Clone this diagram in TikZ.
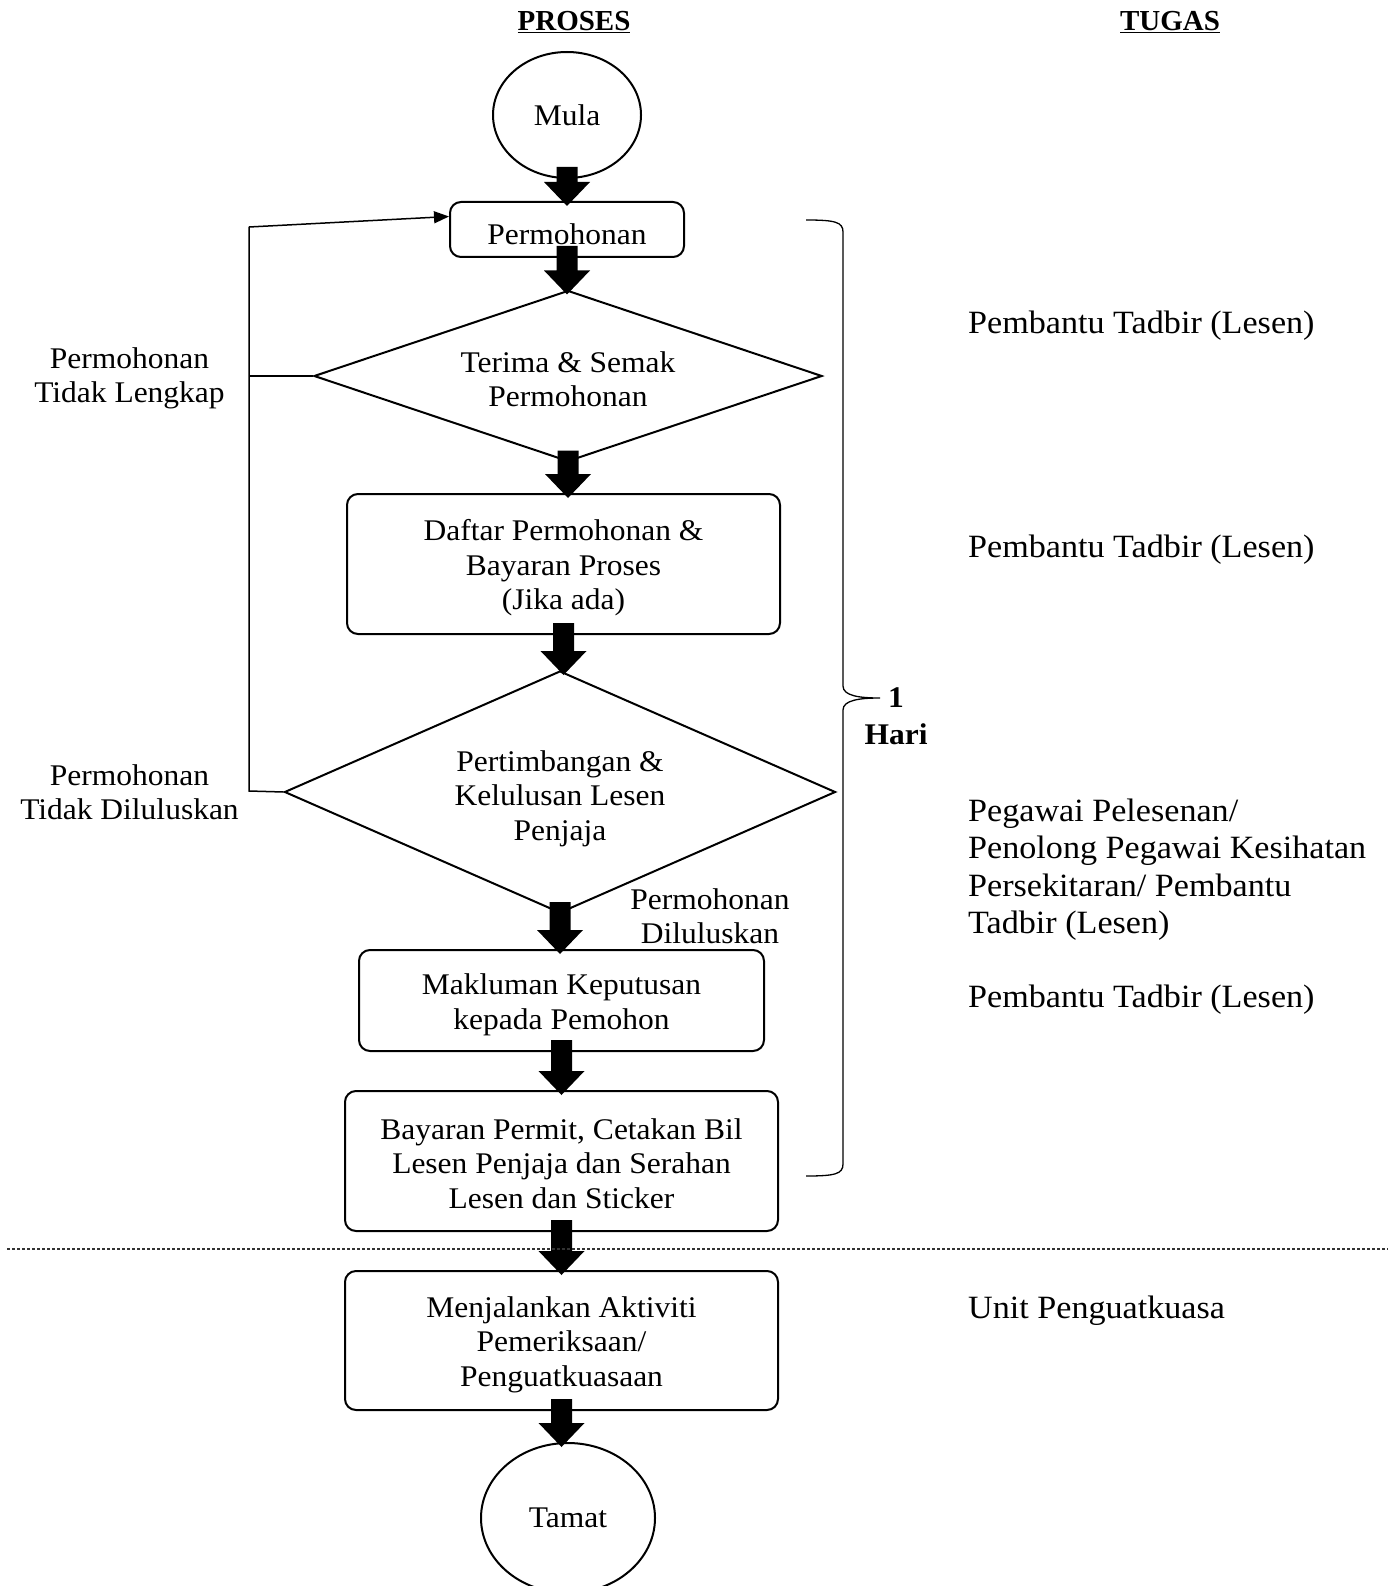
\documentclass[tikz,border=0pt]{standalone}
\usepackage{fontspec}
\setmainfont{Liberation Serif}[FakeStretch=1.05]
\newfontfamily\plainserif{Liberation Serif}
\usetikzlibrary{shapes.geometric,arrows.meta,calc}
\tikzset{
  base/.style={font=\fontsize{30}{34.4}\selectfont, align=center, inner sep=0pt},
  proc/.style={base, draw, line width=2pt, rounded corners=11pt, rectangle},
  dec/.style={base, draw, line width=2pt, diamond},
  term/.style={base, draw, line width=2pt, ellipse},
  head/.style={font=\plainserif\fontsize{29}{32}\selectfont\bfseries},
  side/.style={font=\fontsize{32.5}{37.5}\selectfont, align=left, anchor=west, inner sep=0pt},
  lbl/.style={base},
  blockarrow/.style={fill=black},
  fback/.style={line width=1.5pt},
}
\newcommand{\tx}[2][-4.5pt]{\raisebox{#1}[\height][\depth]{\begin{tabular}{@{}c@{}}#2\end{tabular}}}
\newcommand{\flowarrow}[2]{%
  \fill[blockarrow] let \p1=(#1.south), \p2=(#2.north) in
    (\x1-10.5pt,\y1+12pt) -- (\x1+10.5pt,\y1+12pt) -- (\x1+10.5pt,\y2+19pt) --
    (\x1+23pt,\y2+19pt) -- (\x1,\y2-5pt) -- (\x1-23pt,\y2+19pt) --
    (\x1-10.5pt,\y2+19pt) -- cycle;}
\begin{document}
\begin{tikzpicture}[x=1pt,y=1pt]
\useasboundingbox (0,0) rectangle (1392,-1586);
% titles
\node[head] (tp) at (574,-22) {\underline{PROSES}};
\node[head] (tt) at (1170,-22) {\underline{TUGAS}};
% flow nodes
\node[term, minimum width=148pt, minimum height=126pt] (mula) at (567,-115) {\tx[-4pt]{Mula}};
\node[proc, minimum width=234pt, minimum height=55pt] (perm) at (567,-229.5) {\tx[-8pt]{Permohonan}};
\node[dec, minimum width=508pt, minimum height=171pt, aspect=2.97] (d1) at (568,-376) {\tx[-6.5pt]{Terima \& Semak\\Permohonan}};
\node[proc, minimum width=433pt, minimum height=140pt] (b2) at (563.5,-564) {\tx{Daftar Permohonan \&\\Bayaran Proses\\(Jika ada)}};
\node[dec, minimum width=551pt, minimum height=242pt, aspect=2.28] (d2) at (560,-792) {\tx[-7pt]{Pertimbangan \&\\Kelulusan Lesen\\Penjaja}};
\node[proc, minimum width=405pt, minimum height=101pt] (b3) at (561.5,-1000.5) {\tx{Makluman Keputusan\\kepada Pemohon}};
\node[proc, minimum width=433pt, minimum height=140pt] (b4) at (561.5,-1161) {\tx[-6pt]{Bayaran Permit, Cetakan Bil\\Lesen Penjaja dan Serahan\\Lesen dan Sticker}};
\node[proc, minimum width=433pt, minimum height=139pt] (b5) at (561.5,-1340.5) {\tx{Menjalankan Aktiviti\\Pemeriksaan/\\Penguatkuasaan}};
\node[term, minimum width=174pt, minimum height=150pt] (tamat) at (568,-1518) {Tamat};
% block arrows
\flowarrow{mula}{perm}
\flowarrow{perm}{d1}
\flowarrow{d1}{b2}
\flowarrow{b2}{d2}
\flowarrow{d2}{b3}
\flowarrow{b3}{b4}
\flowarrow{b4}{b5}
\flowarrow{b5}{tamat}
% dashed separator
\coordinate (dl) at (7,-1249);
\coordinate (dr) at (1388,-1249);
\draw[line width=1.2pt, dash pattern=on 3pt off 2pt, black!80] (dl) -- (dr);
% feedback loop
\coordinate (fbtop) at (249,-227);
\coordinate (fbbot) at (249,-791);
\draw[fback] (d2.west) -- (fbbot) -- (fbtop);
\draw[fback, -{Triangle[length=15pt,width=12pt]}] (fbtop) -- ([yshift=13pt]perm.west);
\draw[fback] (d1.west) -- (d1.west -| fbtop);
% left labels
\node[lbl] (l1) at (129.5,-378.5) {Permohonan\\Tidak Lengkap};
\node[lbl] (l2) at (129.5,-792.5) {Permohonan\\Tidak Diluluskan};
\node[lbl] (l3) at (710,-916) {Permohonan\\Diluluskan};
% brace
\draw[line width=1.3pt] (806,-220) .. controls (835,-220) and (843,-222) .. (843,-232)
  -- (843,-686) .. controls (843,-696) and (860,-698) .. (880,-698)
  (843,-1164) -- (843,-710) .. controls (843,-700) and (860,-698) .. (880,-698)
  (843,-1164) .. controls (843,-1174) and (835,-1176) .. (806,-1176);
\node[font=\fontsize{30}{37}\selectfont\bfseries, align=center, inner sep=0pt] (hari) at (896,-716) {1\\Hari};
% right column
\node[side] (t1) at (968,-326) {Pembantu Tadbir (Lesen)};
\node[side] (t2) at (968,-550) {Pembantu Tadbir (Lesen)};
\node[side, anchor=north west] (t3) at (968,-798.5) {Pegawai Pelesenan/\\Penolong Pegawai Kesihatan\\Persekitaran/ Pembantu\\Tadbir (Lesen)};
\node[side] (t4) at (968,-1000) {Pembantu Tadbir (Lesen)};
\node[side] (t5) at (968,-1311) {Unit Penguatkuasa};
\end{tikzpicture}
\end{document}
